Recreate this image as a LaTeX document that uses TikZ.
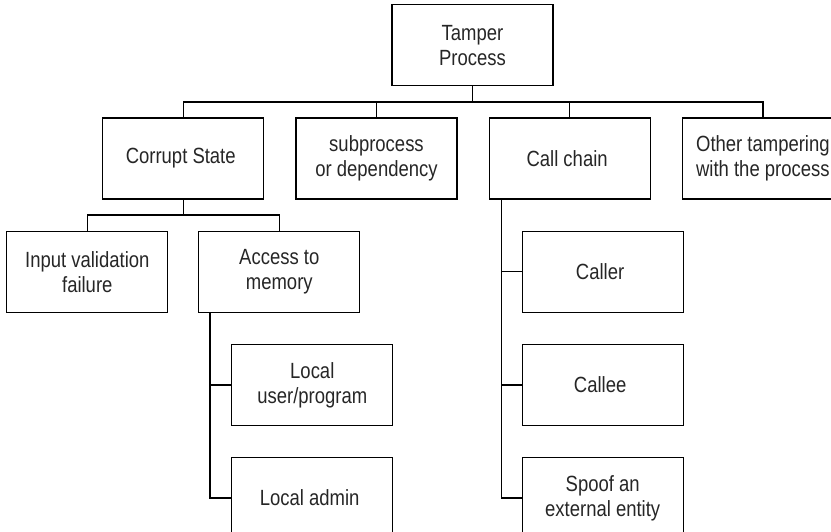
\documentclass[tikz,border=0pt]{standalone}
\usepackage{fontspec}
\setmainfont{Liberation Sans}[FakeStretch=0.84]
\usetikzlibrary{positioning}

\begin{document}
\begin{tikzpicture}[
    node distance=31pt and 31pt,
    box/.style={
        rectangle,
        draw,
        line width=1.2pt,
        align=center,
        inner sep=0pt,
        minimum width=161pt,
        minimum height=81pt,
        text=black!85,
        font=\fontsize{22}{25}\selectfont
    },
    link/.style={line width=1.4pt}
]

\useasboundingbox (-376.5pt,158.5pt) rectangle (454.5pt,-372.5pt);

\node[box] (subproc) at (0,0) {
subprocess\\
or dependency
};
\node[box, left=of subproc] (corrupt) {
Corrupt State
};
\node[box, right=of subproc] (callchain) {
Call chain
};
\node[box, right=of callchain] (other) {
Other tampering\\
with the process
};
\node[box, above=of subproc, xshift=96pt] (tamper) {
Tamper\\
Process
};

\node[box, below=of corrupt, xshift=-96pt] (input) {
Input validation\\
failure
};
\node[box, below=of corrupt, xshift=96pt] (access) {
Access to\\
memory
};
\node[box, below=of access, xshift=33pt] (localuser) {
Local\\
user/program
};
\node[box, below=of localuser] (localadmin) {
Local admin
};

\node[box, below=of callchain, xshift=33pt] (caller) {
Caller
};
\node[box, below=of caller] (callee) {
Callee
};
\node[box, below=of callee] (spoof) {
Spoof an\\
external entity
};

\foreach \kid in {corrupt, subproc, callchain, other}
    \draw[link] (tamper.south) -- ++(0,-15.5pt) -| (\kid.north);
\foreach \kid in {input, access}
    \draw[link] (corrupt.south) -- ++(0,-15.5pt) -| (\kid.north);
\foreach \kid in {localuser, localadmin}
    \draw[link] (access.south west) ++(12pt,0) |- (\kid.west);
\foreach \kid in {caller, callee, spoof}
    \draw[link] (callchain.south west) ++(13pt,0) |- (\kid.west);

\end{tikzpicture}
\end{document}
